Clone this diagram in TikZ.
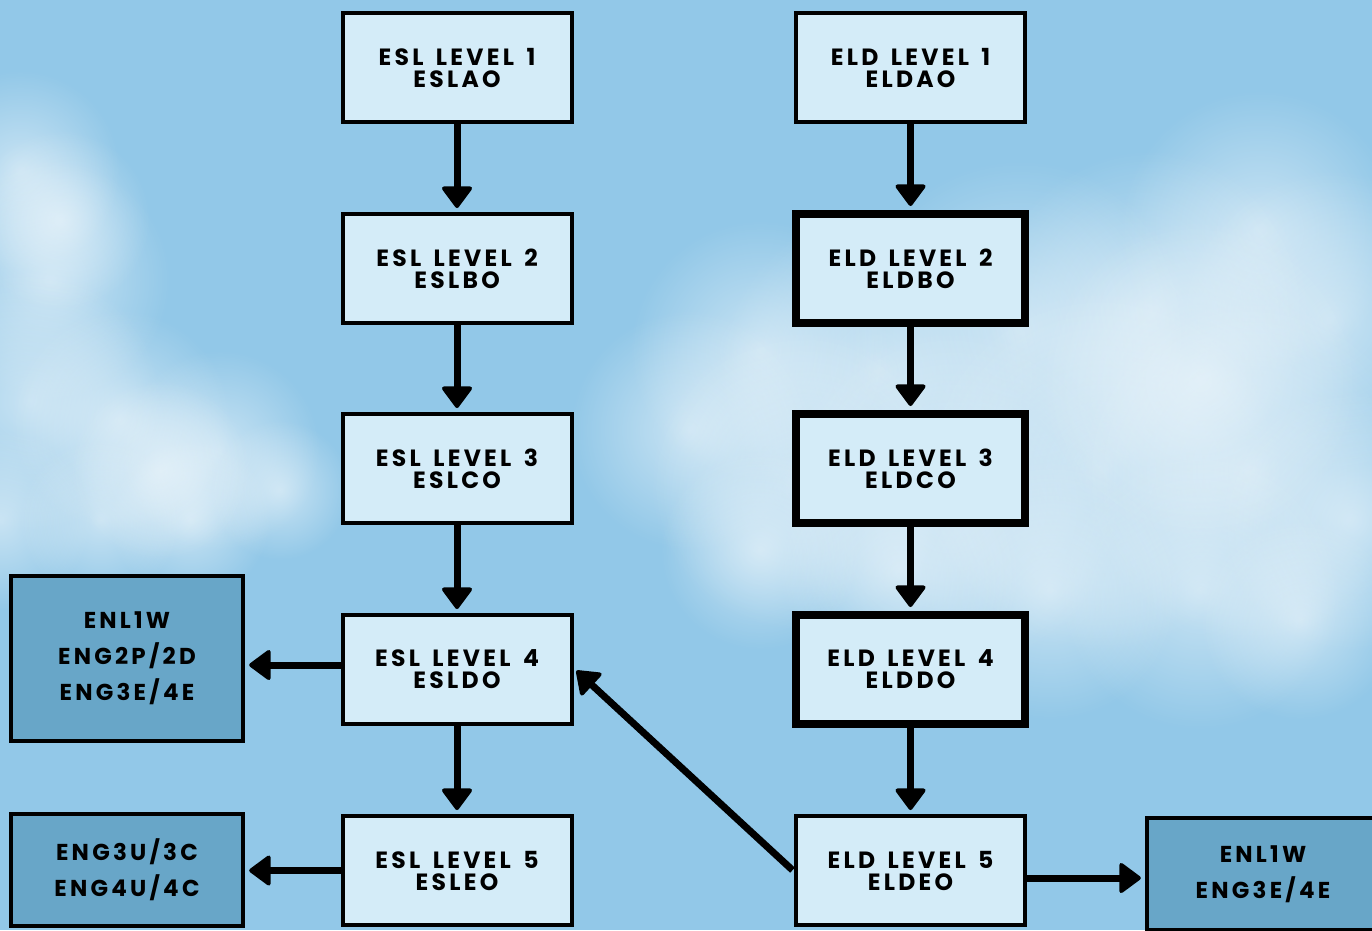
\documentclass[tikz,border=0pt]{standalone}
\usepackage{fontspec}
\setmainfont{Poppins}[LetterSpace=14,WordSpace=1.5]
\usetikzlibrary{arrows.meta,fadings}
\definecolor{sky}{RGB}{146,200,232}
\definecolor{lightbox}{RGB}{212,236,248}
\definecolor{darkbox}{RGB}{104,166,200}
\tikzfading[name=softcirc, inner color=transparent!0, outer color=transparent!100]
\tikzset{
  lvl/.style={draw=black, line width=4pt, fill=lightbox, minimum width=229pt, minimum height=109pt,
    inner sep=0pt, align=center, font=\fontsize{23.5}{22}\selectfont\bfseries},
  lvlthick/.style={lvl, line width=8pt},
  course/.style={draw=black, line width=4.3pt, fill=darkbox, minimum width=232pt, inner sep=0pt,
    align=center, font=\fontsize{23}{36}\selectfont\bfseries},
  flow/.style={line width=7pt, -{Triangle[width=33pt,length=23pt,round,line width=4pt]}, shorten >=4pt},
  cloud/.style={fill=white, path fading=softcirc, fill opacity=0.5}
}
\begin{document}
\begin{tikzpicture}[x=1pt,y=-1pt]
\clip (0,0) rectangle (1372,930);
\fill[sky] (0,0) rectangle (1372,930);
% clouds
\foreach \cx/\cy/\r in {20/170/100, 50/280/120, 30/400/130, 120/420/110, 220/450/100, 190/520/80, 280/490/70, 0/520/90, 100/520/80, 60/220/90, 160/470/90}
  \fill[cloud] (\cx,\cy) circle (\r);
\foreach \cx/\cy/\r in {1260/230/140, 1330/320/150, 1150/310/160, 1020/330/170, 880/370/160, 760/350/130, 690/430/120, 800/480/150, 950/500/170, 1100/470/180, 1250/470/170, 1350/520/130, 1200/590/140, 1050/590/130, 900/570/120, 760/550/100, 1300/620/100, 1200/380/160}
  \fill[cloud] (\cx,\cy) circle (\r);

\node[lvl] (s1) at (457,67.5) {ESL LEVEL 1\\ESLAO};
\node[lvl] (s2) at (457,268.5) {ESL LEVEL 2\\ESLBO};
\node[lvl] (s3) at (457,468.5) {ESL LEVEL 3\\ESLCO};
\node[lvl] (s4) at (457,669.5) {ESL LEVEL 4\\ESLDO};
\node[lvl] (s5) at (457,870.5) {ESL LEVEL 5\\ESLEO};

\node[lvl] (d1) at (910.5,67.5) {ELD LEVEL 1\\ELDAO};
\node[lvlthick] (d2) at (910.5,268.5) {ELD LEVEL 2\\ELDBO};
\node[lvlthick] (d3) at (910.5,468.5) {ELD LEVEL 3\\ELDCO};
\node[lvlthick] (d4) at (910.5,669.5) {ELD LEVEL 4\\ELDDO};
\node[lvl] (d5) at (910.5,870.5) {ELD LEVEL 5\\ELDEO};

\node[course, minimum height=165pt] (c1) at (127,658.5) {ENL1W\\ENG2P/2D\\ENG3E/4E};
\node[course, minimum height=112pt] (c2) at (127,870) {ENG3U/3C\\ENG4U/4C};
\node[course, minimum height=112pt] (c3) at (1263,874) {ENL1W\\ENG3E/4E};

\foreach \a/\b in {s1/s2,s2/s3,s3/s4,s4/s5,d1/d2,d2/d3,d3/d4,d4/d5}
  \draw[flow] (\a.south) -- (\b.north);
\draw[flow] ([yshift=4.5pt]s4.west) -- ([yshift=4.5pt]s4.west -| c1.east);
\draw[flow] (s5.west) -- (s5.west -| c2.east);
\draw[flow] ([yshift=-7.5pt]d5.east) -- ([yshift=-7.5pt]d5.east -| c3.west);
\draw[flow, shorten <=2pt] ([yshift=-1pt]d5.west) -- ([yshift=1.5pt]s4.east);
\end{tikzpicture}
\end{document}
